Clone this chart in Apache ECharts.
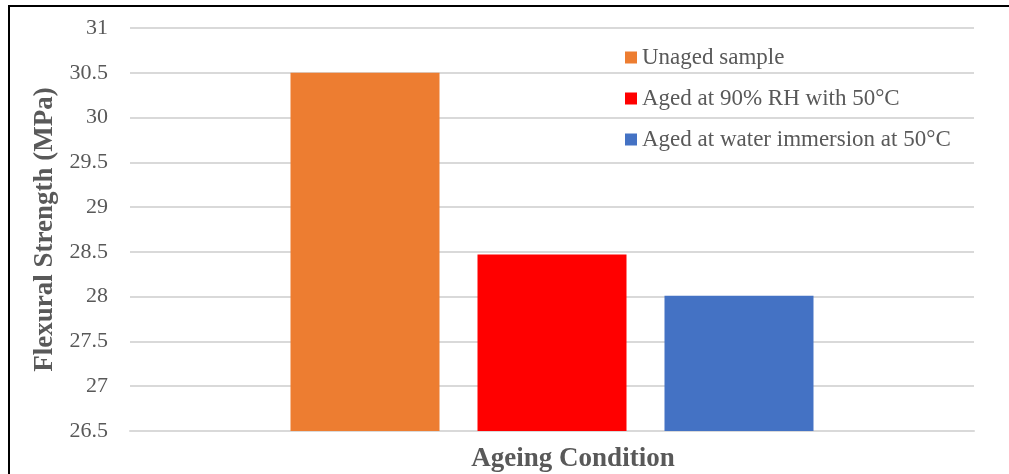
<!DOCTYPE html>
<html>
<head>
<meta charset="utf-8">
<script src="https://cdn.jsdelivr.net/npm/echarts@6/dist/echarts.min.js"></script>
<style>
  html, body { margin: 0; padding: 0; background: #fff; }
  #chart { width: 1009px; height: 474px; }
  #frame {
    position: absolute; left: 8px; top: 5px; width: 1010px; height: 480px;
    border-left: 2px solid #000; border-top: 2px solid #000;
    pointer-events: none;
  }
</style>
</head>
<body>
<div id="chart"></div>
<div id="frame"></div>
<script>
const categories = ["Ageing Condition"];
const seriesNames = [
  "Unaged sample",
  "Aged at 90% RH with 50°C",
  "Aged at water immersion at 50°C"
];
const seriesValues = [30.5, 28.47, 28.01];
const seriesColors = ["#ed7d31", "#ff0000", "#4472c4"];

const textColor = "#595959";
const font = "'Liberation Serif', 'Times New Roman', serif";

const chart = echarts.init(document.getElementById("chart"));
chart.setOption({
  animation: false,
  backgroundColor: "#fff",
  grid: { left: 130, right: 35, top: 28, bottom: 43, outerBoundsMode: "none" },
  legend: {
    orient: "vertical",
    left: 620,
    top: 41,
    itemWidth: 12,
    itemHeight: 12,
    itemGap: 18,
    icon: "rect",
    textStyle: { fontFamily: font, fontSize: 23, color: textColor },
    data: seriesNames
  },
  xAxis: {
    type: "category",
    data: categories,
    name: "Ageing Condition",
    nameLocation: "middle",
    nameGap: 15,
    nameTextStyle: {
      fontFamily: font, fontSize: 27, fontWeight: "bold", color: textColor,
      padding: [0, 0, 0, 42]
    },
    axisLine: { lineStyle: { color: "#d9d9d9", width: 2 } },
    axisTick: { show: false },
    axisLabel: { show: false }
  },
  yAxis: {
    type: "value",
    min: 26.5,
    max: 31,
    interval: 0.5,
    name: "Flexural Strength (MPa)",
    nameLocation: "middle",
    nameGap: 65,
    nameTextStyle: { fontFamily: font, fontSize: 27, fontWeight: "bold", color: textColor },
    axisLine: { show: false },
    axisTick: { show: false },
    axisLabel: { fontFamily: font, fontSize: 22, color: textColor, margin: 22 },
    splitLine: { lineStyle: { color: "#d9d9d9", width: 2 } }
  },
  series: seriesNames.map((name, i) => ({
    name,
    type: "bar",
    data: [seriesValues[i]],
    barWidth: 149,
    barGap: "25.5%",
    itemStyle: { color: seriesColors[i] }
  }))
});
</script>
</body>
</html>
